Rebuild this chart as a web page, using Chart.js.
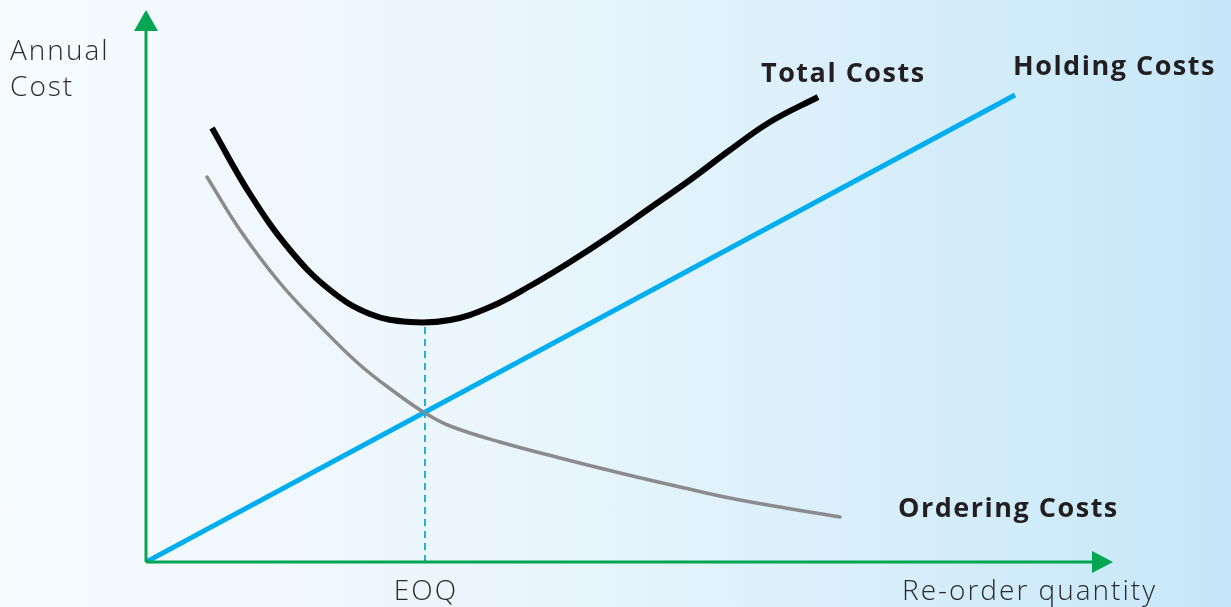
<!DOCTYPE html>
<html>
<head>
<meta charset="utf-8">
<script src="https://cdn.jsdelivr.net/npm/chart.js@4"></script>
<style>
  html, body { margin: 0; padding: 0; }
  body { width: 1231px; height: 607px; overflow: hidden;
         background: linear-gradient(to right, #f7fbfe 0%, #e8f5fc 45%, #c6e7f9 100%); }
  #wrap { position: relative; width: 1231px; height: 607px; }
</style>
</head>
<body>
<div id="wrap"><canvas id="eoqChart"></canvas></div>
<script>
// curve points (x = quantity, y = annual cost, arbitrary units)
const holdingX = [0, 869];
const holdingY = [0, 467];

const orderingX = [61, 94, 134, 174, 214, 254, 279, 304, 354, 414, 474, 534, 594, 694];
const orderingY = [385, 332, 279, 236, 197, 166, 149, 136, 120, 104, 89, 75, 62, 45];

const totalX = [66, 104, 144, 184, 224, 264, 304, 344, 384, 424, 464, 504, 544, 584, 624, 672];
const totalY = [434, 368, 312, 272, 248, 240, 242, 255, 276, 300, 326, 354, 382, 412, 440, 465];

const eoqX = 279;
const eoqCost = 239;

const xMax = 967;
const yMax = 552;

const toPoints = (xs, ys) => xs.map((x, i) => ({ x: x, y: ys[i] }));

// green axes with arrow heads, plus the text labels
const axesAndLabels = {
    id: 'axesAndLabels',
    afterDatasetsDraw(chart) {
        const ctx = chart.ctx;
        const xs = chart.scales.x, ys = chart.scales.y;
        const x0 = xs.getPixelForValue(0), y0 = ys.getPixelForValue(0);
        const xEnd = xs.getPixelForValue(xMax), yEnd = ys.getPixelForValue(yMax);
        ctx.save();
        ctx.strokeStyle = '#00a651';
        ctx.fillStyle = '#00a651';
        ctx.lineWidth = 3;
        ctx.beginPath();
        ctx.moveTo(x0, y0);
        ctx.lineTo(x0, yEnd + 16);
        ctx.moveTo(x0, y0);
        ctx.lineTo(xEnd - 16, y0);
        ctx.stroke();
        // arrow heads
        ctx.beginPath();
        ctx.moveTo(x0, yEnd);
        ctx.lineTo(x0 - 12, yEnd + 21);
        ctx.lineTo(x0 + 12, yEnd + 21);
        ctx.closePath();
        ctx.fill();
        ctx.beginPath();
        ctx.moveTo(xEnd, y0);
        ctx.lineTo(xEnd - 21, y0 - 11);
        ctx.lineTo(xEnd - 21, y0 + 11);
        ctx.closePath();
        ctx.fill();

        // labels
        ctx.fillStyle = '#2b2b2b';
        ctx.textBaseline = 'alphabetic';
        ctx.font = '300 28px "Open Sans", "Noto Sans", sans-serif';
        ctx.letterSpacing = '2px';
        ctx.textAlign = 'left';
        ctx.fillText('Annual', 10, 60);
        ctx.fillText('Cost', 10, 96);
        ctx.textAlign = 'center';
        ctx.fillText('EOQ', xs.getPixelForValue(eoqX) + 1, 600);
        ctx.textAlign = 'left';
        ctx.fillText('Re-order quantity', 902, 600);

        ctx.fillStyle = '#231f20';
        ctx.font = 'bold 27px "Open Sans", "Noto Sans", sans-serif';
        ctx.letterSpacing = '1.5px';
        ctx.fillText('Total Costs', 761, 82);
        ctx.fillText('Holding Costs', 1013, 75);
        ctx.fillText('Ordering Costs', 898, 517);
        ctx.restore();
    }
};

new Chart(document.getElementById('eoqChart').getContext('2d'), {
    type: 'line',
    data: {
        datasets: [
            {
                label: 'EOQ',
                data: [{ x: eoqX, y: 0 }, { x: eoqX, y: eoqCost }],
                borderColor: '#29abe2',
                borderWidth: 2,
                borderDash: [7, 5],
                pointRadius: 0,
                tension: 0
            },
            {
                label: 'Ordering Costs',
                data: toPoints(orderingX, orderingY),
                borderColor: '#8b8b8d',
                borderWidth: 3.5,
                pointRadius: 0,
                tension: 0.4,
                borderCapStyle: 'round'
            },
            {
                label: 'Holding Costs',
                data: toPoints(holdingX, holdingY),
                borderColor: '#00aeef',
                borderWidth: 5,
                pointRadius: 0,
                tension: 0
            },
            {
                label: 'Total Costs',
                data: toPoints(totalX, totalY),
                borderColor: '#000000',
                borderWidth: 6,
                pointRadius: 0,
                tension: 0.4
            }
        ]
    },
    options: {
        responsive: true,
        maintainAspectRatio: false,
        animation: false,
        events: [],
        layout: {
            padding: { left: 146, right: 118, top: 10, bottom: 45 }
        },
        plugins: {
            legend: { display: false },
            tooltip: { enabled: false }
        },
        scales: {
            x: { type: 'linear', min: 0, max: xMax, display: false },
            y: { type: 'linear', min: 0, max: yMax, display: false }
        }
    },
    plugins: [axesAndLabels]
});
</script>
</body>
</html>
